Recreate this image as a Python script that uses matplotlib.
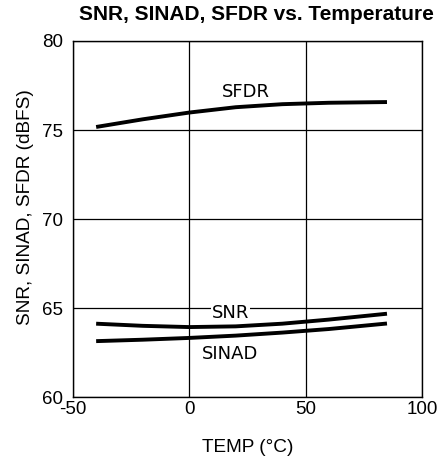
import matplotlib
matplotlib.use("Agg")
import matplotlib.pyplot as plt
import numpy as np

temp = [-40, -20, 0, 20, 40, 60, 85]
sfdr = [75.17, 75.6, 75.98, 76.28, 76.45, 76.53, 76.57]
snr = [64.12, 64.0, 63.93, 63.97, 64.12, 64.35, 64.68]
sinad = [63.14, 63.22, 63.32, 63.45, 63.62, 63.82, 64.13]

plt.rcParams['font.family'] = ['Liberation Sans', 'DejaVu Sans']
plt.rcParams['axes.unicode_minus'] = False

fig = plt.figure(figsize=(4.39, 4.59), dpi=100)
ax = fig.add_axes([0.166, 0.135, 0.795, 0.7757])

for ys in (sfdr, snr, sinad):
    ax.plot(temp, ys, color='black', lw=2.8, solid_capstyle='butt', zorder=3)

ax.set_xlim(-50, 100)
ax.set_ylim(60, 80)
ax.set_xticks([-50, 0, 50, 100])
ax.set_yticks([60, 65, 70, 75, 80])
ax.tick_params(axis='x', length=0, labelsize=13.5, pad=3)
ax.tick_params(axis='y', length=0, labelsize=13.5, pad=7)
ax.grid(True, color='black', lw=0.9)
for s in ax.spines.values():
    s.set_linewidth(1.0)

ax.text(24.4, 77.13, 'SFDR', fontsize=13, family='DejaVu Sans', ha='center', va='center')
ax.text(17.9, 64.72, 'SNR', fontsize=13, family='DejaVu Sans', ha='center', va='center',
        bbox=dict(facecolor='white', edgecolor='none', pad=0.5), zorder=2)
ax.text(17.5, 62.42, 'SINAD', fontsize=13, family='DejaVu Sans', ha='center', va='center')

ax.set_xlabel('TEMP (°C)', fontsize=13.7, labelpad=15)
ax.set_ylabel('SNR, SINAD, SFDR (dBFS)', fontsize=13.7)
ax.yaxis.set_label_coords(-0.112, 0.532)
ax.set_title('SNR, SINAD, SFDR vs. Temperature', fontsize=15, fontweight='bold',
             x=0.525, pad=15)

fig.savefig('out.png', dpi=100)
